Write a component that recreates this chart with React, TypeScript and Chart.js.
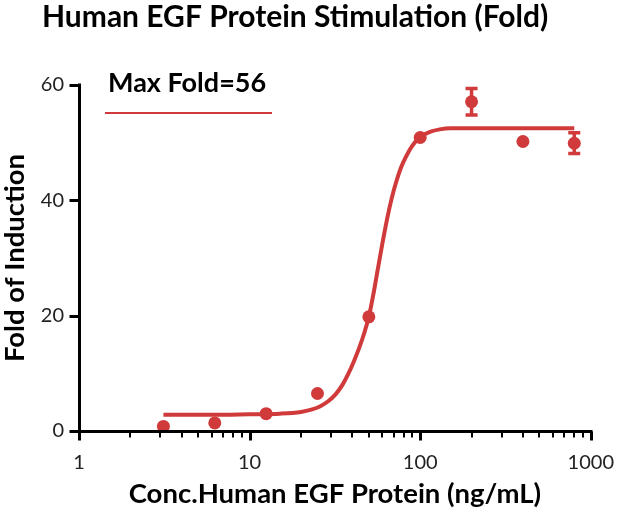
import { useEffect, useRef } from 'react'
import { Chart, registerables } from 'chart.js'
import type { Plugin } from 'chart.js'

Chart.register(...registerables)

const TITLE = 'Human EGF Protein Stimulation (Fold)'
const X_TITLE = 'Conc.Human EGF Protein (ng/mL)'
const Y_TITLE = 'Fold of Induction'
const FIT_LABEL = 'Max Fold=56'

// measured points (ng/mL -> fold)
const doses = [3.125, 6.25, 12.5, 25, 50, 100, 200, 400, 800]
const foldMeans = [0.8, 1.4, 3.0, 6.5, 19.8, 50.9, 57.1, 50.2, 49.9]
const foldErrors = [0, 0, 0, 0, 0, 0, 2.3, 0, 1.8]

// fitted curve
const fitDoses = [3.125, 6.25, 10, 15, 20, 23, 26, 29, 32, 35, 38, 41, 44, 47, 50, 53, 56, 60, 64, 68, 72, 77, 82, 90, 100, 115, 130, 150, 200, 300, 400, 600, 800]
const fitFolds = [2.8, 2.8, 2.9, 3.0, 3.3, 3.7, 4.3, 5.2, 6.4, 8.0, 10.0, 12.2, 14.5, 17.0, 19.8, 23.5, 27.5, 32.5, 36.8, 40.3, 43.0, 45.6, 47.4, 49.5, 51.0, 51.9, 52.3, 52.5, 52.5, 52.5, 52.5, 52.5, 52.5]

const xMajorTicks = [1, 10, 100, 1000]
const xMinorTicks = [2, 3, 4, 5, 6, 7, 8, 9, 20, 30, 40, 50, 60, 70, 80, 90, 200, 300, 400, 500, 600, 700, 800, 900]
const yTicks = [0, 20, 40, 60]

const RED = '#d03a3a'
const INK = '#000'
const FONT = 'Lato'

const extras: Plugin = {
  id: 'extras',
  beforeDatasetsDraw(chart) {
    const { ctx } = chart
    const x = chart.scales.x
    const y = chart.scales.y
    ctx.save()
    ctx.strokeStyle = RED
    ctx.lineWidth = 3.5
    doses.forEach((d, i) => {
      const err = foldErrors[i]
      if (!err) return
      const px = x.getPixelForValue(d)
      const top = y.getPixelForValue(foldMeans[i] + err)
      const bot = y.getPixelForValue(foldMeans[i] - err)
      ctx.beginPath()
      ctx.moveTo(px, top)
      ctx.lineTo(px, bot)
      ctx.moveTo(px - 6, top)
      ctx.lineTo(px + 6, top)
      ctx.moveTo(px - 6, bot)
      ctx.lineTo(px + 6, bot)
      ctx.stroke()
    })
    ctx.restore()
  },
  afterDraw(chart) {
    const { ctx, chartArea } = chart
    const x = chart.scales.x
    const y = chart.scales.y
    ctx.save()
    ctx.strokeStyle = INK
    // axis lines and ticks
    ctx.lineWidth = 3
    ctx.lineCap = 'square'
    const bottom = Math.round(chartArea.bottom) + 0.5
    const left = Math.round(chartArea.left) + 0.5
    ctx.beginPath()
    ctx.moveTo(left, Math.round(chartArea.top))
    ctx.lineTo(left, bottom)
    ctx.lineTo(Math.round(chartArea.right), bottom)
    ctx.stroke()
    ctx.lineCap = 'butt'
    xMajorTicks.forEach((v) => {
      const px = Math.round(x.getPixelForValue(v)) + 0.5
      ctx.beginPath()
      ctx.moveTo(px, bottom)
      ctx.lineTo(px, bottom + 9)
      ctx.stroke()
    })
    yTicks.forEach((v) => {
      const py = Math.round(y.getPixelForValue(v)) + 0.5
      ctx.beginPath()
      ctx.moveTo(left, py)
      ctx.lineTo(left - 10, py)
      ctx.stroke()
    })
    ctx.lineWidth = 2
    xMinorTicks.forEach((v) => {
      const px = Math.round(x.getPixelForValue(v))
      ctx.beginPath()
      ctx.moveTo(px, bottom)
      ctx.lineTo(px, bottom + 6)
      ctx.stroke()
    })
    // title
    ctx.fillStyle = INK
    ctx.textBaseline = 'middle'
    ctx.textAlign = 'left'
    ctx.font = `bold 30px ${FONT}`
    ctx.fillText(TITLE, 42, 17)
    // legend
    ctx.font = `bold 27px ${FONT}`
    ctx.fillText(FIT_LABEL, chartArea.left + 29, chartArea.top - 2)
    ctx.strokeStyle = RED
    ctx.lineWidth = 2
    ctx.beginPath()
    ctx.moveTo(chartArea.left + 26, chartArea.top + 28)
    ctx.lineTo(chartArea.left + 193, chartArea.top + 28)
    ctx.stroke()
    ctx.restore()
  },
}

export default function App() {
  const canvasRef = useRef<HTMLCanvasElement>(null)

  useEffect(() => {
    if (!canvasRef.current) return
    const chart = new Chart(canvasRef.current, {
      type: 'line',
      data: {
        datasets: [
          {
            type: 'scatter',
            label: 'data',
            data: doses.map((d, i) => ({ x: d, y: foldMeans[i] })),
            backgroundColor: RED,
            borderColor: RED,
            pointRadius: 6.5,
            pointBorderWidth: 0,
          },
          {
            type: 'line',
            label: FIT_LABEL,
            data: fitDoses.map((d, i) => ({ x: d, y: fitFolds[i] })),
            borderColor: RED,
            borderWidth: 4,
            pointRadius: 0,
            cubicInterpolationMode: 'monotone',
            fill: false,
          },
        ],
      },
      options: {
        responsive: true,
        maintainAspectRatio: false,
        animation: false,
        layout: { padding: { top: 85, right: 28, left: 0, bottom: 0 } },
        plugins: {
          legend: { display: false },
          tooltip: { enabled: false },
          title: { display: false },
        },
        scales: {
          x: {
            type: 'logarithmic',
            min: 1,
            max: 1000,
            afterBuildTicks: (scale) => {
              scale.ticks = xMajorTicks.map((v) => ({ value: v, major: true }))
            },
            afterFit: (scale) => {
              scale.height = 85
            },
            ticks: {
              autoSkip: false,
              maxRotation: 0,
              padding: 12,
              color: '#222',
              font: { family: FONT, size: 20 },
              callback: (v) => String(v),
            },
            grid: {
              drawOnChartArea: false,
              tickLength: 8,
              tickColor: 'transparent',
            },
            border: { display: false },
            title: {
              display: true,
              text: X_TITLE,
              color: INK,
              font: { family: FONT, size: 27.5, weight: 'bold', lineHeight: 1.1 },
              padding: { top: 0, bottom: 7 },
            },
          },
          y: {
            min: 0,
            max: 60,
            afterBuildTicks: (scale) => {
              scale.ticks = yTicks.map((v) => ({ value: v }))
            },
            afterFit: (scale) => {
              scale.width = 79
            },
            ticks: {
              padding: 6,
              color: '#222',
              font: { family: FONT, size: 20 },
            },
            grid: {
              drawOnChartArea: false,
              tickLength: 9,
              tickColor: 'transparent',
            },
            border: { display: false },
            title: {
              display: true,
              text: Y_TITLE,
              color: INK,
              font: { family: FONT, size: 27.5, weight: 'bold', lineHeight: 1.1 },
              padding: { top: 0, bottom: 0 },
            },
          },
        },
      },
      plugins: [extras],
    })
    return () => chart.destroy()
  }, [])

  return (
    <div style={{ position: 'absolute', left: 0, top: 0, width: 626, height: 516, background: '#fff' }}>
      <canvas ref={canvasRef} />
    </div>
  )
}
